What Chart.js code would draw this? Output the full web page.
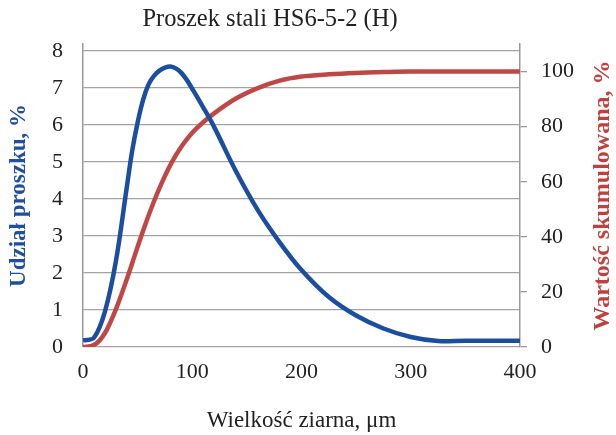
<!DOCTYPE html>
<html lang="pl">
<head>
<meta charset="utf-8">
<title>Proszek stali HS6-5-2 (H)</title>
<script src="https://cdn.jsdelivr.net/npm/chart.js@4.4.1/dist/chart.umd.min.js"></script>
<style>
  html, body { margin: 0; padding: 0; background: #fff; }
  #box { width: 616px; height: 435px; }
</style>
</head>
<body>
<div id="box"><canvas id="chart"></canvas></div>
<script>
// Grain size distribution: share (left axis) and cumulative value (right axis)
const chartTitle = 'Proszek stali HS6-5-2 (H)';
const grainSize = [0, 10, 20, 30, 40, 45, 50, 55, 60, 65, 70, 75, 80, 85, 90, 95, 100, 110, 120, 140, 160, 180, 200, 225, 250, 275, 300, 325, 350, 400];
const shareBlue = [0.18, 0.25, 0.95, 2.3, 4.3, 5.3, 6.07, 6.68, 7.1, 7.33, 7.47, 7.55, 7.58, 7.53, 7.41, 7.22, 6.98, 6.48, 5.95, 4.75, 3.7, 2.83, 2.08, 1.35, 0.85, 0.5, 0.27, 0.16, 0.17, 0.17];
const cumRed    = [0, 0.7, 5, 13.6, 24.5, 30.4, 36.4, 42.2, 47.7, 52.9, 57.7, 62.1, 66.1, 69.6, 72.7, 75.4, 77.8, 81.6, 84.8, 90.2, 94, 96.7, 98.2, 99, 99.5, 99.8, 100, 100, 100, 100];
const xTicks = [0, 100, 200, 300, 400];
const leftTicks = [0, 1, 2, 3, 4, 5, 6, 7, 8];
const rightTicks = [0, 20, 40, 60, 80, 100];

const FONT = '"Liberation Serif", "Times New Roman", serif';
const BLUE = '#1c4ea0';
const RED = '#be4846';
const GRID = '#a3a3a3';

function pts(ys) { return grainSize.map((x, i) => ({ x: x, y: ys[i] })); }

// chart title sits left of centre, and the right title reads bottom-to-top,
// so both are drawn here
const extraText = {
  id: 'extraText',
  afterDraw(chart) {
    const ctx = chart.ctx, a = chart.chartArea;
    ctx.save();
    ctx.textAlign = 'center';
    ctx.textBaseline = 'middle';
    ctx.font = '24.5px ' + FONT;
    ctx.fillStyle = '#222';
    ctx.fillText(chartTitle, 270, 20);
    ctx.translate(603, (a.top + a.bottom) / 2);
    ctx.rotate(-Math.PI / 2);
    ctx.font = 'bold 24px ' + FONT;
    ctx.fillStyle = '#c0403d';
    ctx.fillText('Wartość skumulowana, %', 0, 0);
    ctx.restore();
  }
};

new Chart(document.getElementById('chart'), {
  type: 'line',
  data: {
    datasets: [
      { label: 'Udział proszku', data: pts(shareBlue), yAxisID: 'y', borderColor: BLUE, borderWidth: 4.5,
        pointRadius: 0, tension: 0.35, fill: false },
      { label: 'Wartość skumulowana', data: pts(cumRed), yAxisID: 'y1', borderColor: RED, borderWidth: 4.5,
        pointRadius: 0, cubicInterpolationMode: 'monotone', fill: false }
    ]
  },
  options: {
    responsive: true, maintainAspectRatio: false, animation: false,
    layout: { padding: { top: 44, left: 0, right: 0, bottom: 0 } },
    plugins: {
      legend: { display: false },
      tooltip: { enabled: false },
      title: { display: false }
    },
    scales: {
      x: {
        type: 'linear', min: 0, max: 400,
        afterBuildTicks: s => { s.ticks = xTicks.map(v => ({ value: v })); },
        afterFit: s => { s.height = 88; },
        grid: { display: false, drawTicks: false },
        border: { display: false },
        ticks: { color: '#222', padding: 12, font: { family: FONT, size: 22 } },
        title: { display: true, text: 'Wielkość ziarna, μm', color: '#222',
          font: { family: FONT, size: 23 }, padding: { top: 0, bottom: 0 } }
      },
      y: {
        position: 'left', min: 0, max: 8.19,
        afterBuildTicks: s => { s.ticks = leftTicks.map(v => ({ value: v })); },
        afterFit: s => { s.width = 83; },
        grid: { color: GRID, lineWidth: 1.3, drawTicks: false },
        border: { color: '#999', width: 1.5 },
        ticks: { color: '#222', padding: 20, font: { family: FONT, size: 22 } },
        title: { display: true, text: 'Udział proszku, %', color: '#1f4fa0',
          font: { family: FONT, size: 23, weight: 'bold' }, padding: { top: 5, bottom: 0 } }
      },
      y1: {
        position: 'right', min: 0, max: 110,
        afterBuildTicks: s => { s.ticks = rightTicks.map(v => ({ value: v })); },
        afterFit: s => { s.width = 96; },
        grid: { drawOnChartArea: false, drawTicks: true, tickLength: 7, color: '#999', lineWidth: 1.3 },
        border: { color: '#999', width: 1.5 },
        ticks: { color: '#222', padding: 14, font: { family: FONT, size: 22 } }
      }
    }
  },
  plugins: [extraText]
});
</script>
</body>
</html>
